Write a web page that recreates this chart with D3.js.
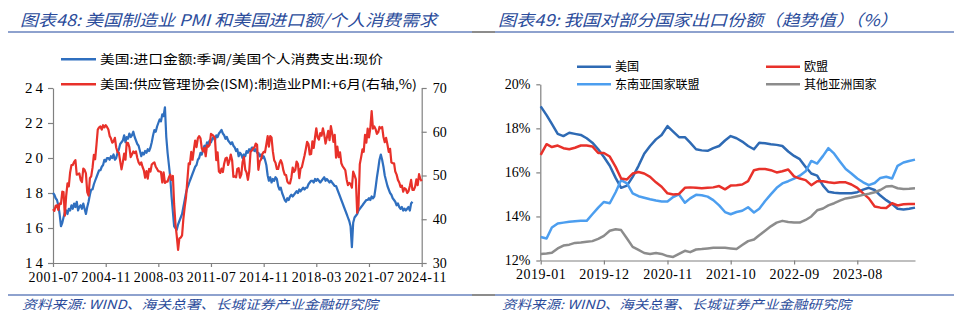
<!DOCTYPE html>
<html><head><meta charset="utf-8">
<script src="https://cdn.jsdelivr.net/npm/d3@7"></script>
<style>body{margin:0;background:#fff}svg{display:block}</style>
</head><body>
<svg id="c" width="960" height="328"></svg>
<script>
// ---------- Left chart data (monthly, starting 2001-07) ----------
const leftStart = "2001-07";
const leftEnd = "2024-11";
const leftTickLabels = ["2001-07","2004-11","2008-03","2011-07","2014-11","2018-03","2021-07","2024-11"];
const leftYTicks = [14,16,18,20,22,24];
const rightYTicks = [30,40,50,60,70];
const leftSeriesNames = ["美国:进口金额:季调/美国个人消费支出:现价","美国:供应管理协会(ISM):制造业PMI:+6月(右轴,%)"];
// US imports / personal consumption expenditure (left axis)
const importRatio = [
18.0,17.9,17.7,17.6,17.3,16.8,16.1,16.3,16.6,16.9,17.0,16.8,
17.1,17.0,17.3,17.1,17.4,17.2,17.5,17.0,17.2,17.3,17.1,17.4,
17.1,16.8,17.2,17.5,17.9,18.2,18.2,18.5,18.7,18.9,19.1,19.3,
19.3,19.5,19.6,19.9,19.8,20.0,20.0,19.9,20.1,20.0,20.2,19.9,
20.0,20.3,20.5,20.8,20.9,21.0,21.3,20.9,21.2,21.1,21.4,21.2,
21.3,21.5,21.2,21.0,20.8,20.7,20.4,20.1,20.3,20.2,20.4,20.3,
20.5,20.4,20.6,20.9,21.3,21.6,21.5,21.8,22.0,22.2,22.1,22.5,
22.4,22.9,21.2,20.3,19.6,18.9,17.8,16.9,16.1,16.0,15.9,16.2,
16.4,16.6,16.8,17.2,17.6,18.0,18.3,18.5,18.7,18.9,19.1,19.3,
19.5,19.6,19.9,20.0,20.3,20.2,20.5,20.7,20.6,20.9,20.8,21.0,
20.9,21.1,21.2,21.0,21.3,21.2,21.4,21.5,21.6,21.4,21.3,21.1,
21.2,21.0,20.9,20.8,20.9,20.7,20.6,20.4,20.5,20.1,20.3,20.2,
20.0,20.2,20.1,20.4,20.3,20.5,20.4,20.6,20.6,20.4,20.5,20.3,
20.3,20.1,20.2,20.0,20.1,19.9,19.6,19.0,18.7,18.9,18.6,18.8,
18.7,18.9,18.8,18.4,18.2,18.3,18.0,17.8,17.6,17.5,17.7,17.6,
17.8,17.9,17.8,17.9,18.0,18.1,18.0,18.2,18.1,18.2,18.3,18.2,
18.3,18.3,18.5,18.6,18.7,18.7,18.6,18.8,18.7,18.8,18.7,18.6,
18.7,18.8,18.9,18.7,18.8,18.7,18.6,18.7,18.6,18.5,18.4,18.4,
18.2,18.0,17.8,17.6,17.4,17.2,17.0,16.8,16.6,16.4,16.1,14.9,
16.3,16.6,16.7,16.8,17.0,17.1,17.2,17.3,17.4,17.5,17.6,17.6,
17.7,17.6,17.8,17.7,17.8,18.3,18.9,19.4,19.9,20.2,19.9,19.5,
19.0,18.7,18.4,18.2,18.0,17.9,17.7,17.6,17.5,17.3,17.4,17.2,
17.1,17.2,17.0,17.1,17.0,17.1,17.2,17.0,17.4,17.5
];
// ISM manufacturing PMI, shifted forward 6 months (right axis)
const pmiShifted = [
42.3,41.9,43.1,43.2,42.1,43.6,43.5,46.3,46.2,40.8,45.3,48.2,
47.5,50.7,52.4,52.4,53.1,53.5,50.2,50.3,50.5,49.0,48.5,51.6,
51.3,50.5,46.2,45.4,49.4,49.8,51.8,54.7,53.7,57.0,60.5,61.0,
61.2,60.5,61.5,61.0,61.5,61.1,60.5,59.0,58.5,57.5,57.8,58.6,
56.4,55.3,55.2,53.3,51.4,53.0,55.0,53.6,57.5,57.4,56.5,54.2,
54.8,55.5,55.1,55.5,54.0,53.0,52.5,53.0,52.0,51.2,49.5,51.0,
49.3,51.5,50.9,52.5,52.8,53.0,52.0,51.5,51.0,50.9,50.8,48.4,
50.7,48.3,48.6,48.6,49.6,50.2,49.0,49.9,43.5,38.9,36.2,33.0,
35.6,35.8,36.3,40.1,42.8,45.0,48.9,52.8,52.6,55.4,53.6,55.9,
58.0,56.5,58.5,59.0,58.5,56.2,55.5,56.3,54.4,56.9,56.6,57.0,
59.5,59.3,59.0,58.5,53.5,55.3,50.9,50.6,51.6,50.8,52.7,53.9,
54.1,52.4,53.4,54.8,53.5,49.7,49.8,49.6,51.5,51.7,49.5,50.2,
53.1,54.2,51.3,50.7,49.0,50.9,55.4,55.7,56.2,56.4,57.3,57.0,
51.3,53.2,53.7,54.9,55.4,55.3,57.1,59.0,56.6,59.0,58.7,55.5,
53.5,52.9,51.5,51.5,52.8,53.5,52.7,51.1,50.2,50.1,48.6,48.2,
48.2,49.5,51.8,50.8,51.3,53.2,52.6,49.4,51.5,51.9,53.2,54.5,
56.0,57.7,57.2,54.8,54.9,57.8,56.3,58.8,60.8,58.7,58.2,59.7,
59.1,60.8,59.3,57.3,58.7,60.2,58.1,61.3,59.8,57.7,59.3,54.1,
56.6,54.2,55.3,52.8,52.1,51.7,51.2,49.1,47.8,48.3,48.1,47.2,
50.9,50.1,49.1,41.5,43.1,52.6,54.2,56.0,55.4,59.3,57.5,60.7,
58.7,60.8,64.7,60.7,61.2,60.6,59.5,59.9,61.1,60.8,61.1,58.8,
57.6,58.6,57.1,55.4,56.1,53.0,52.8,52.8,50.9,50.2,49.0,48.4,
47.4,47.7,46.3,47.1,46.9,46.0,46.4,47.6,49.0,46.7,46.7,47.4,
49.1,47.8,50.3,49.2,48.7
];

// ---------- Right chart data (monthly, starting 2019-01, trend values, %) ----------
const rightStart = "2019-01";
const rightEnd = "2024-06";
const rightTickLabels = ["2019-01","2019-12","2020-11","2021-10","2022-09","2023-08"];
const shareYTicks = [12,14,16,18,20];
const shareNames = ["美国","欧盟","东南亚国家联盟","其他亚洲国家"];
const usShare = [19.0,18.6,18.2,17.75,17.65,17.8,17.75,17.7,17.55,17.35,17.05,16.7,
16.3,15.75,15.3,15.4,15.8,16.3,16.85,17.2,17.5,17.7,18.1,17.85,
17.6,17.6,17.35,17.05,17.0,16.98,17.1,17.2,17.45,17.65,17.55,17.4,
17.2,17.05,17.35,17.32,17.28,17.25,17.2,16.95,16.75,16.6,16.25,15.95,
15.85,15.4,15.12,15.08,15.05,15.05,15.05,15.1,15.22,15.3,15.2,14.95,
14.74,14.56,14.35,14.32,14.35,14.4];
const euShare = [16.8,17.28,17.15,17.22,17.1,17.05,17.12,17.22,17.22,17.18,16.88,16.88,
16.72,16.25,15.72,15.68,15.95,16.02,15.95,15.8,15.55,15.35,15.05,15.0,
15.02,15.3,15.32,15.3,15.28,15.3,15.32,15.38,15.23,15.4,15.42,15.45,
15.6,16.1,16.15,16.15,16.1,16.0,16.05,16.13,15.82,15.72,15.65,15.42,
15.6,15.6,15.55,15.52,15.55,15.55,15.45,15.3,15.05,14.82,14.45,14.4,
14.38,14.6,14.5,14.55,14.56,14.56];
const aseanShare = [13.07,13.0,13.5,13.68,13.72,13.76,13.78,13.8,13.8,14.1,14.4,14.66,
14.6,15.1,15.65,15.5,15.05,14.92,14.85,14.78,14.72,14.68,14.68,14.88,
15.0,14.62,14.82,14.98,14.96,14.9,14.74,14.5,14.2,14.1,14.2,14.26,
14.42,14.18,14.35,14.7,15.0,15.3,15.5,15.6,15.72,15.85,16.05,16.52,
16.4,16.75,17.1,16.85,16.5,16.15,15.95,15.72,15.55,15.42,15.52,15.75,
15.8,15.72,16.3,16.45,16.52,16.58];
const otherAsiaShare = [12.3,12.32,12.35,12.55,12.68,12.72,12.8,12.82,12.85,12.88,12.98,13.12,
13.35,13.42,13.38,13.0,12.62,12.48,12.34,12.3,12.34,12.3,12.2,12.16,
12.3,12.44,12.38,12.5,12.52,12.55,12.58,12.58,12.58,12.55,12.52,12.7,
12.88,12.95,13.15,13.35,13.55,13.72,13.8,13.75,13.72,13.72,13.84,14.0,
14.28,14.36,14.5,14.6,14.72,14.82,14.86,14.92,14.98,15.03,15.1,15.2,
15.36,15.38,15.28,15.25,15.26,15.28];

const titleLeft = "图表48:  美国制造业 PMI 和美国进口额/个人消费需求";
const titleRight = "图表49:  我国对部分国家出口份额（趋势值）（%）";
const sourceText = "资料来源:  WIND、海关总署、长城证券产业金融研究院";

// ---------- Drawing ----------
const svg = d3.select("#c");
const parseM = d3.timeParse("%Y-%m");
const CJK = "'Noto Sans CJK SC','Noto Sans',sans-serif";
const SERIF = "'Liberation Serif','DejaVu Serif',serif";
const navy = "#2B4C9B";
const axisCol = "#808080";
const blueL = "#2F6FBF", redL = "#E8312A";
const usCol = "#2E6AB4", euCol = "#E8312A", aseanCol = "#4C9EEF", asiaCol = "#8C8C8C";

// Title / footer rules
function rule(y){
  svg.append("line").attr("x1",8).attr("x2",472).attr("y1",y).attr("y2",y).attr("stroke","#8EA2CE").attr("stroke-width",2);
  svg.append("line").attr("x1",472).attr("x2",495).attr("y1",y).attr("y2",y).attr("stroke","#8C8C8C").attr("stroke-width",2);
  svg.append("line").attr("x1",495).attr("x2",954).attr("y1",y).attr("y2",y).attr("stroke","#8EA2CE").attr("stroke-width",2);
}
rule(32); rule(295);

function titleText(x, y, txt, len, size){
  svg.append("text").attr("x",x).attr("y",y).text(txt)
    .attr("font-family",CJK).attr("font-size",size).attr("font-style","italic")
    .attr("fill",navy).attr("textLength",len).attr("lengthAdjust","spacingAndGlyphs");
}
titleText(20, 26, titleLeft, 417, 16);
titleText(498, 26, titleRight, 400, 16);
titleText(22, 309, sourceText, 356, 12.5);
titleText(502, 309, sourceText, 349, 12.5);

function styleAxis(g){
  g.selectAll(".domain").attr("stroke",axisCol).attr("stroke-width",1.2);
  g.selectAll(".tick line").attr("stroke",axisCol).attr("stroke-width",1.2);
  g.selectAll(".tick text").attr("font-family",SERIF).attr("font-size",14).attr("fill","#000");
}

// ----- Left chart -----
{
  const x = d3.scaleTime().domain([parseM(leftStart), parseM(leftEnd)]).range([53, 421.7]);
  const yL = d3.scaleLinear().domain([14,24]).range([263,88]);
  const yR = d3.scaleLinear().domain([30,70]).range([263,88]);
  const s0 = parseM(leftStart);
  const gx = svg.append("g").attr("transform","translate(0,263)")
    .call(d3.axisBottom(x).tickValues(leftTickLabels.map(parseM)).tickFormat(d3.timeFormat("%Y-%m")).tickSize(4).tickSizeOuter(0).tickPadding(5));
  styleAxis(gx);
  gx.selectAll(".tick text").attr("letter-spacing","0.5px");
  const gl = svg.append("g").attr("transform","translate(53,0)")
    .call(d3.axisLeft(yL).tickValues(leftYTicks).tickSize(5).tickSizeOuter(0).tickPadding(2));
  styleAxis(gl);
  gl.selectAll(".tick text").attr("font-size",15).attr("letter-spacing","3px");
  const gr = svg.append("g").attr("transform","translate(421.7,0)")
    .call(d3.axisRight(yR).tickValues(rightYTicks).tickSize(5).tickSizeOuter(0).tickPadding(6));
  styleAxis(gr);

  const lineL = d3.line().x((d,i)=>x(d3.timeMonth.offset(s0,i))).y(d=>yL(d));
  const lineR = d3.line().x((d,i)=>x(d3.timeMonth.offset(s0,i))).y(d=>yR(d));
  svg.append("path").attr("d",lineL(importRatio)).attr("fill","none").attr("stroke",blueL).attr("stroke-width",2.2).attr("stroke-linejoin","round");
  svg.append("path").attr("d",lineR(pmiShifted)).attr("fill","none").attr("stroke",redL).attr("stroke-width",2.2).attr("stroke-linejoin","round");

  const legY = [59.3, 84.3], legW = [283, 317], cols = [blueL, redL];
  leftSeriesNames.forEach((n,i)=>{
    svg.append("line").attr("x1",61).attr("x2",96).attr("y1",legY[i]).attr("y2",legY[i]).attr("stroke",cols[i]).attr("stroke-width",2.5);
    svg.append("text").attr("x",100).attr("y",legY[i]+4.5).text(n).attr("font-family",CJK).attr("font-size",12.5)
      .attr("fill","#000").attr("textLength",legW[i]).attr("lengthAdjust","spacingAndGlyphs");
  });
}

// ----- Right chart -----
{
  const x = d3.scaleTime().domain([parseM(rightStart), parseM(rightEnd)]).range([540.7, 915]);
  const y = d3.scaleLinear().domain([12,20]).range([260.5,84.3]);
  const s0 = parseM(rightStart);
  const gx = svg.append("g").attr("transform","translate(0,260.5)")
    .call(d3.axisBottom(x).tickValues(rightTickLabels.map(parseM)).tickFormat(d3.timeFormat("%Y-%m")).tickSize(4).tickSizeOuter(0).tickPadding(5));
  styleAxis(gx);
  gx.selectAll(".tick text").attr("letter-spacing","0.5px");
  const gy = svg.append("g").attr("transform","translate(540.3,0)")
    .call(d3.axisLeft(y).tickValues(shareYTicks).tickFormat(d=>d+"%").tickSize(4).tickSizeOuter(0).tickPadding(6));
  styleAxis(gy);
  const line = d3.line().x((d,i)=>x(d3.timeMonth.offset(s0,i))).y(d=>y(d));
  const series = [usShare, euShare, aseanShare, otherAsiaShare];
  const cols = [usCol, euCol, aseanCol, asiaCol];
  [0,2,1,3].forEach(k=>{
    svg.append("path").attr("d",line(series[k])).attr("fill","none").attr("stroke",cols[k]).attr("stroke-width",2.5).attr("stroke-linejoin","round");
  });
  const lx = [577, 766], ly = [66.7, 84.3];
  shareNames.forEach((n,i)=>{
    const cx = lx[i%2], cy = ly[Math.floor(i/2)];
    svg.append("line").attr("x1",cx).attr("x2",cx+34).attr("y1",cy).attr("y2",cy).attr("stroke",cols[i]).attr("stroke-width",2.5);
    svg.append("text").attr("x",cx+38).attr("y",cy+4.5).text(n).attr("font-family",CJK).attr("font-size",12.5).attr("fill","#000")
      .attr("textLength",n.length*12.1).attr("lengthAdjust","spacingAndGlyphs");
  });
}
</script>
</body></html>
